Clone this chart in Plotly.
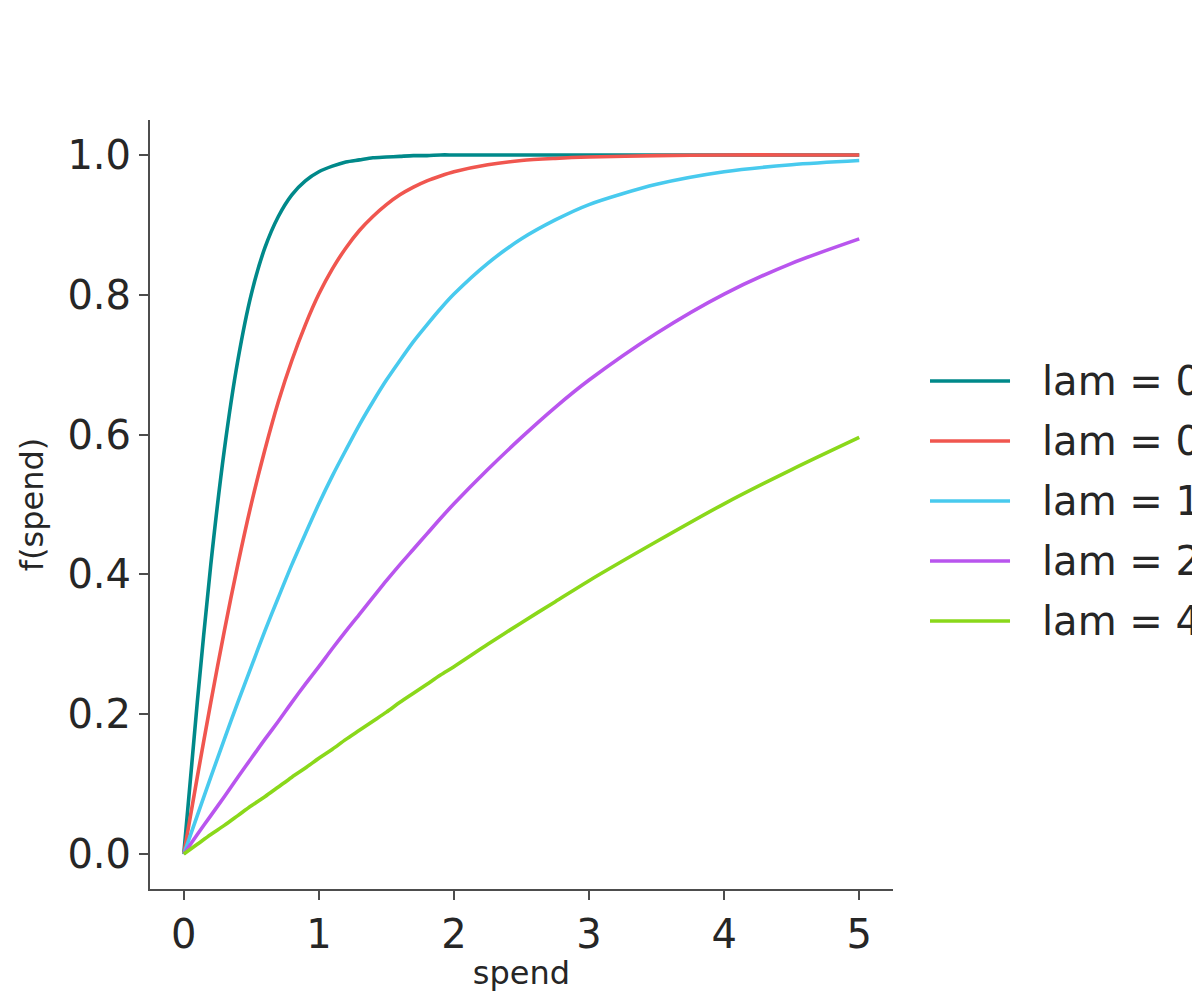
import plotly.graph_objects as go

# values
spend = [0.0, 0.1, 0.2, 0.3, 0.4, 0.5, 0.6, 0.7, 0.8, 0.9, 1.0,
         1.1, 1.2, 1.3, 1.4, 1.5, 1.6, 1.7, 1.8, 1.9, 2.0,
         2.25, 2.5, 2.75, 3.0, 3.5, 4.0, 4.5, 5.0]

lam_025 = [0.0, 0.217, 0.414, 0.578, 0.706, 0.801, 0.867, 0.912, 0.943, 0.963, 0.976,
           0.984, 0.990, 0.993, 0.996, 0.997, 0.998, 0.999, 0.999, 1.0, 1.0,
           1.0, 1.0, 1.0, 1.0, 1.0, 1.0, 1.0, 1.0]
lam_05 = [0.0, 0.110, 0.217, 0.319, 0.414, 0.501, 0.578, 0.647, 0.706, 0.757, 0.801,
          0.837, 0.867, 0.892, 0.912, 0.929, 0.943, 0.954, 0.963, 0.970, 0.976,
          0.986, 0.992, 0.995, 0.997, 0.999, 1.0, 1.0, 1.0]
lam_1 = [0.0, 0.055, 0.110, 0.164, 0.217, 0.268, 0.319, 0.367, 0.414, 0.458, 0.501,
         0.541, 0.578, 0.614, 0.647, 0.678, 0.706, 0.733, 0.757, 0.780, 0.801,
         0.845, 0.880, 0.907, 0.929, 0.958, 0.976, 0.986, 0.992]
lam_2 = [0.0, 0.028, 0.055, 0.082, 0.110, 0.137, 0.164, 0.190, 0.217, 0.243, 0.268,
         0.294, 0.319, 0.343, 0.367, 0.391, 0.414, 0.436, 0.458, 0.480, 0.501,
         0.550, 0.596, 0.639, 0.678, 0.745, 0.801, 0.845, 0.880]
lam_4 = [0.0, 0.014, 0.028, 0.041, 0.055, 0.069, 0.082, 0.096, 0.110, 0.123, 0.137,
         0.150, 0.164, 0.177, 0.190, 0.203, 0.217, 0.230, 0.243, 0.256, 0.268,
         0.300, 0.331, 0.361, 0.391, 0.447, 0.501, 0.550, 0.596]

series_names = ["lam = 0.25", "lam = 0.5", "lam = 1", "lam = 2", "lam = 4"]
series_values = [lam_025, lam_05, lam_1, lam_2, lam_4]
colors = ["#00898A", "#F0564F", "#48CAEE", "#B955EE", "#8AD81A"]

x_ticks = [0, 1, 2, 3, 4, 5]
y_ticks = [0.0, 0.2, 0.4, 0.6, 0.8, 1.0]

FONT = "DejaVu Sans"
AXIS_COLOR = "#4d4d4d"
TEXT_COLOR = "#262626"

fig = go.Figure()
for name, vals, col in zip(series_names, series_values, colors):
    fig.add_trace(
        go.Scatter(
            x=spend,
            y=vals,
            mode='lines',
            name=name,
            line=dict(color=col, width=3.6, shape='spline', smoothing=0.8),
            showlegend=False
        )
    )

# hand-drawn legend so the line samples get matplotlib's length
shapes = []
annotations = []
for i, (name, col) in enumerate(zip(series_names, colors)):
    yp = 0.6606 - i * 0.078
    shapes.append(dict(type='line', xref='paper', yref='paper',
                       x0=1.0498, x1=1.1575, y0=yp, y1=yp,
                       line=dict(color=col, width=3.6)))
    annotations.append(dict(xref='paper', yref='paper', x=1.1985, y=yp,
                            xanchor='left', yanchor='middle', showarrow=False,
                            text=name, font=dict(family=FONT, size=40, color=TEXT_COLOR)))

# page body adds 8px on each side, so the figure is shrunk to avoid scrollbars
fig.update_layout(
    width=1192,
    height=984,
    margin=dict(l=142, r=307, t=112, b=103, autoexpand=False),
    plot_bgcolor='white',
    paper_bgcolor='white',
    font=dict(family=FONT, size=40, color=TEXT_COLOR),
    shapes=shapes,
    annotations=annotations,
    xaxis=dict(
        range=[-0.25, 5.25],
        tickvals=x_ticks,
        ticks='outside',
        ticklen=9,
        tickwidth=2,
        tickcolor=AXIS_COLOR,
        showline=True,
        linecolor=AXIS_COLOR,
        linewidth=2,
        showgrid=False,
        zeroline=False,
        tickfont=dict(size=40, color=TEXT_COLOR),
        title=dict(text="spend", font=dict(size=32, color=TEXT_COLOR), standoff=11),
    ),
    yaxis=dict(
        range=[-0.05, 1.05],
        tickvals=y_ticks,
        tickformat='.1f',
        ticks='outside',
        ticklen=9,
        tickwidth=2,
        tickcolor=AXIS_COLOR,
        showline=True,
        linecolor=AXIS_COLOR,
        linewidth=2,
        showgrid=False,
        zeroline=False,
        tickfont=dict(size=40, color=TEXT_COLOR),
        title=dict(text="f(spend)", font=dict(size=32, color=TEXT_COLOR), standoff=14),
    ),
)

fig.write_html("out.html")
